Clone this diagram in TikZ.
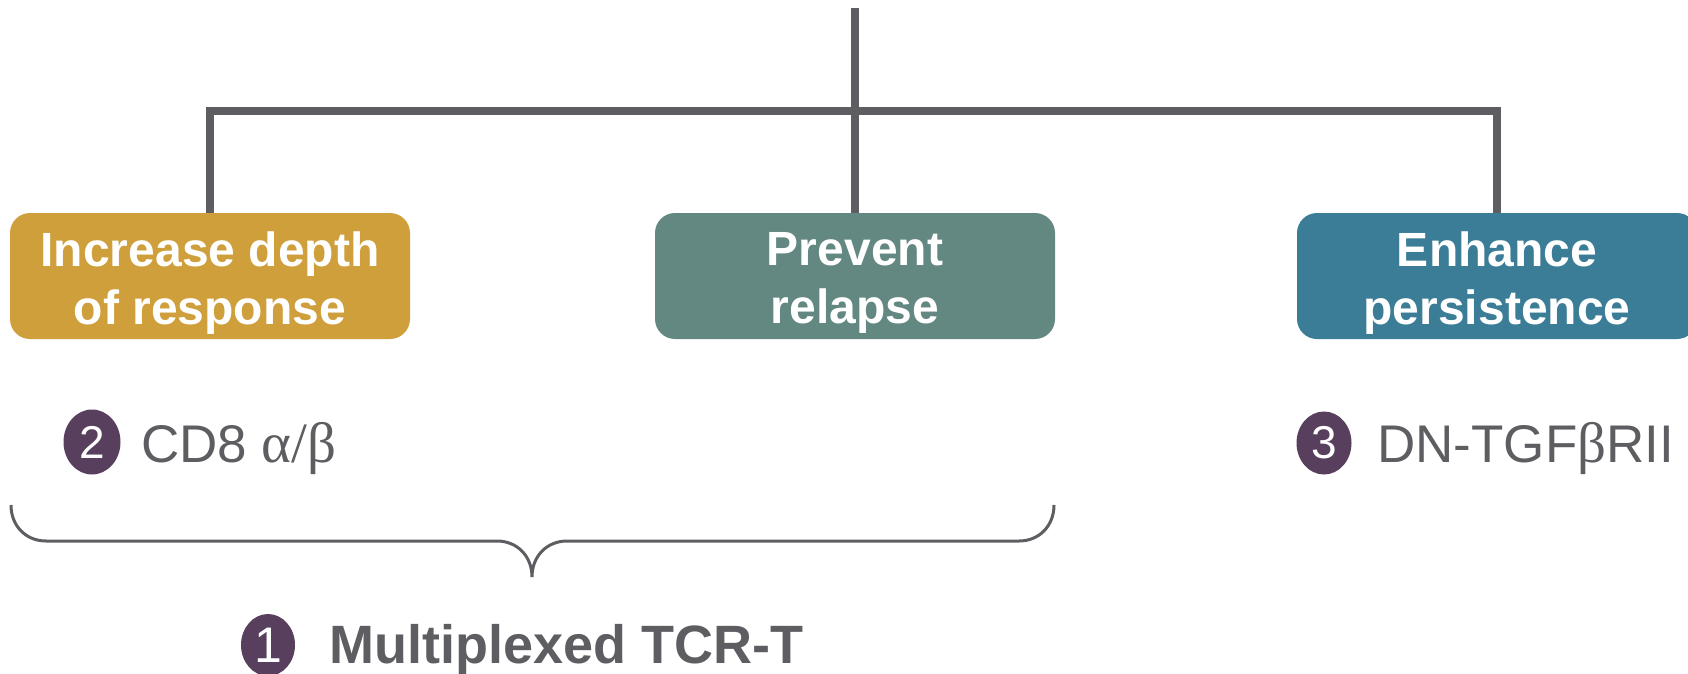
\documentclass[tikz,border=0pt]{standalone}
\usepackage{fontspec}
\setmainfont{Liberation Sans}
\newfontfamily\greekfont{Liberation Serif}
\usetikzlibrary{shapes.geometric}
\definecolor{gold}{HTML}{CF9F3B}
\definecolor{sage}{HTML}{638882}
\definecolor{tealb}{HTML}{3B7D97}
\definecolor{plum}{HTML}{573F5D}
\definecolor{linegray}{HTML}{5E5E62}
\definecolor{txtgray}{HTML}{5E5E62}
\tikzset{
  goalbox/.style={rounded corners=20pt, minimum width=400pt, minimum height=126pt,
    inner sep=0pt},
  goaltext/.style={inner sep=0pt, text=white, align=center,
    font=\fontsize{48}{58}\selectfont\bfseries},
  treeline/.style={draw=linegray, line width=8pt},
  bracestyle/.style={draw=linegray, line width=3pt},
  numdot/.style={ellipse, fill=plum, inner sep=0pt, text=white,
    font=\fontsize{46}{46}\selectfont},
  itemtext/.style={anchor=base west, inner sep=0pt, text=txtgray,
    font=\fontsize{53}{60}\selectfont},
}
\newcommand{\grk}[1]{{\greekfont\fontsize{57}{60}\selectfont #1}}
\begin{document}
\begin{tikzpicture}[x=1pt,y=-1pt]
\useasboundingbox (0,0) rectangle (1688,673);
\clip (0,0) rectangle (1688,673);
% goal boxes
\node[goalbox, fill=gold] (b1) at (210,276) {};
\node[goaltext] (b1t) at (210,283) {Increase depth\\of response};
\node[goalbox, fill=sage] (b2) at (855,276) {};
\node[goaltext] (b2t) at (855,283) {Prevent\\relapse};
\node[goalbox, fill=tealb] (b3) at (1497,276) {};
\node[goaltext] (b3t) at (1497,283) {Enhance\\persistence};
% tree
\coordinate (top) at (855,8);
\coordinate (jl) at (210,111);
\coordinate (jr) at (1497,111);
\draw[treeline] (top) -- (b2.north);
\draw[treeline, line cap=rect] (jl) -- (jr);
\draw[treeline] (jl) -- (b1.north);
\draw[treeline] (jr) -- (b3.north);
% items
\node[numdot, minimum width=57pt, minimum height=65pt] (n2) at (92,442) {2};
\node[itemtext] (t2) at (141,462) {CD8 \grk{α/β}};
\node[numdot, minimum width=55pt, minimum height=63pt] (n3) at (1324,443) {3};
\node[itemtext] (t3) at (1377,462) {DN-TGF\grk{β}RII};
% brace
\draw[bracestyle] (11,505) .. controls (11,526) and (26,541) .. (46,541)
  -- (497,541) .. controls (517,541) and (532,556) .. (532,577)
  .. controls (532,556) and (547,541) .. (567,541)
  -- (1019,541) .. controls (1039,541) and (1054,526) .. (1054,505);
% multiplexed
\node[numdot, minimum width=54pt, minimum height=62pt,
  font=\fontsize{50}{50}\selectfont] (n1) at (268,645) {1};
\node[anchor=base west, inner sep=0pt, text=txtgray,
  font=\fontsize{54}{54}\selectfont\bfseries] (t1) at (329,663)
  {Multiplexed TCR-T};
\end{tikzpicture}
\end{document}
